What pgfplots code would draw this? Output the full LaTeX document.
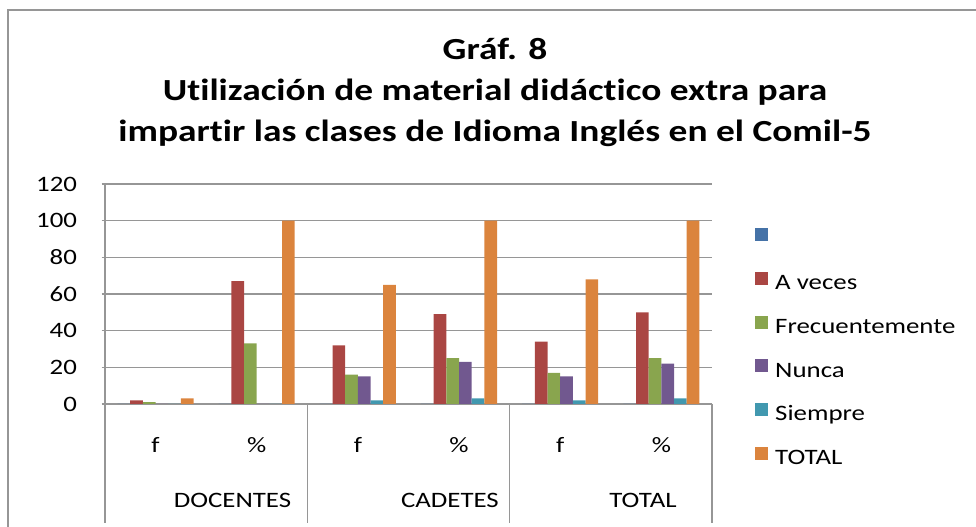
\documentclass[border=0pt]{standalone}
\usepackage{fontspec}
\setmainfont{Carlito}[FakeStretch=1.22, Ligatures={NoCommon}]
\usepackage{pgfplots}
\pgfplotsset{compat=1.18}
\definecolor{cBlue}{HTML}{4572A7}
\definecolor{cRed}{HTML}{AA4643}
\definecolor{cGreen}{HTML}{89A54E}
\definecolor{cPurple}{HTML}{71588F}
\definecolor{cCyan}{HTML}{4198AF}
\definecolor{cOrange}{HTML}{DB843D}
\definecolor{cGrid}{HTML}{969696}
\begin{document}
\begin{tikzpicture}
\useasboundingbox (0,0) rectangle (732pt,395.25pt);
\draw[cGrid, line width=1pt] (6pt,0) -- (6pt,387.75pt) -- (732pt,387.75pt);
\node[anchor=base, font=\bfseries\fontsize{23}{28}\selectfont] at (371.25pt,350.25pt) {Gráf. 8};
\node[anchor=base, font=\bfseries\fontsize{23}{28}\selectfont] at (371.25pt,319.5pt) {Utilización de material didáctico extra para};
\node[anchor=base, font=\bfseries\fontsize{23}{28}\selectfont] at (371.25pt,288.75pt) {impartir las clases de Idioma Inglés en el Comil-5};
\begin{axis}[
  at={(78.75pt,92.25pt)}, anchor=south west,
  width=455.25pt, height=165pt, scale only axis,
  xmin=-0.5, xmax=5.5, ymin=0, ymax=120,
  ytick={0,20,...,120},
  xtick={0,1,2,3,4,5},
  xticklabels={f,\%,f,\%,f,\%},
  ybar=0pt, bar width=9.5pt,
  axis x line*=bottom, axis y line*=left,
  axis line style={cGrid, line width=0.9pt, -},
  ymajorgrids, grid style={cGrid, line width=0.9pt},
  xtick style={draw=none},
  ytick style={cGrid, line width=0.9pt},
  tick align=outside, major tick length=2.5pt,
  /pgf/number format/assume math mode=true,
  tick label style={font=\fontsize{16.5}{20}\selectfont},
  yticklabel style={anchor=east, xshift=-15pt},
  xticklabel style={anchor=base, yshift=-33.75pt},
  clip=false,
  legend style={at={(1.0708,0.799)}, anchor=north west, draw=none, fill=none,
    inner sep=0pt, row sep=15.5pt, column sep=5.25pt,
    font=\fontsize{16.5}{20}\selectfont,
    nodes={inner sep=0pt, text height=12pt, text depth=4pt}},
  legend cell align=left,
  legend image code/.code={\fill[#1] (0pt,-0.5pt) rectangle (9.75pt,9.25pt);},
]
\addplot[fill=cBlue, draw=none] coordinates {(0,0) (1,0) (2,0) (3,0) (4,0) (5,0)};
\addlegendentry{}
\addplot[fill=cRed, draw=none] coordinates {(0,2) (1,67) (2,32) (3,49) (4,34) (5,50)};
\addlegendentry{A veces}
\addplot[fill=cGreen, draw=none] coordinates {(0,1) (1,33) (2,16) (3,25) (4,17) (5,25)};
\addlegendentry{Frecuentemente}
\addplot[fill=cPurple, draw=none] coordinates {(0,0) (1,0) (2,15) (3,23) (4,15) (5,22)};
\addlegendentry{Nunca}
\addplot[fill=cCyan, draw=none] coordinates {(0,0) (1,0) (2,2) (3,3) (4,2) (5,3)};
\addlegendentry{Siempre}
\addplot[fill=cOrange, draw=none] coordinates {(0,3) (1,100) (2,65) (3,100) (4,68) (5,100)};
\addlegendentry{TOTAL}
\draw[cGrid, line width=0.9pt] (axis cs:-0.5,0) -- ++(0pt,-89.25pt);
\draw[cGrid, line width=0.9pt] (axis cs:1.5,0) -- ++(0pt,-89.25pt);
\draw[cGrid, line width=0.9pt] (axis cs:3.5,0) -- ++(0pt,-89.25pt);
\draw[cGrid, line width=0.9pt] (axis cs:5.5,0) -- ++(0pt,-89.25pt);
\node[anchor=base, font=\fontsize{16.5}{20}\selectfont, yshift=-78pt] at (axis cs:0.760,0) {DOCENTES};
\node[anchor=base, font=\fontsize{16.5}{20}\selectfont, yshift=-78pt] at (axis cs:2.910,0) {CADETES};
\node[anchor=base, font=\fontsize{16.5}{20}\selectfont, yshift=-78pt] at (axis cs:4.818,0) {TOTAL};
\end{axis}
\end{tikzpicture}
\end{document}
